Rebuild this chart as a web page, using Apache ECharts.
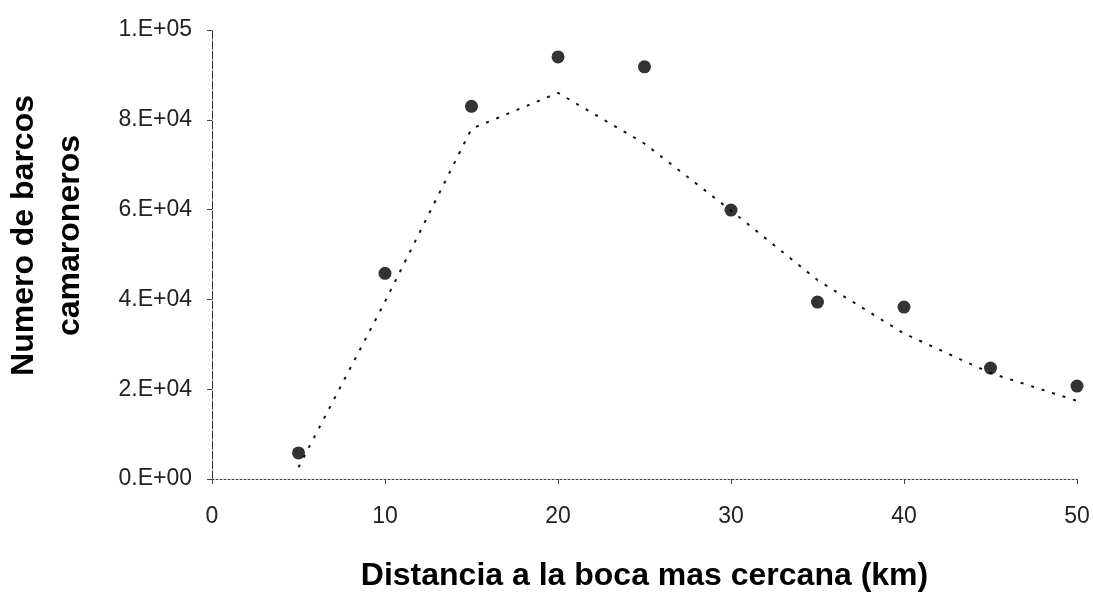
<!DOCTYPE html>
<html>
<head>
<meta charset="utf-8">
<script src="https://cdn.jsdelivr.net/npm/echarts@6/dist/echarts.min.js"></script>
<style>
html,body{margin:0;padding:0;background:#fff;}
#chart{width:1093px;height:597px;}
</style>
</head>
<body>
<div id="chart"></div>
<script>
// Data
const distances = [5, 10, 15, 20, 25, 30, 35, 40, 45, 50];
const observed = [5800, 45800, 83000, 94000, 91800, 59900, 39400, 38300, 24700, 20700];
const fitted = [2600, 39500, 78000, 86000, 74700, 59800, 44300, 32400, 23600, 17400];
const yTickLabels = ['0.E+00', '2.E+04', '4.E+04', '6.E+04', '8.E+04', '1.E+05'];
const xTitle = 'Distancia a la boca mas cercana (km)';
const yTitle = 'Numero de barcos\ncamaroneros';

const chart = echarts.init(document.getElementById('chart'), null, {renderer: 'canvas'});
const font = '"Liberation Sans", Arial, sans-serif';
chart.setOption({
  animation: false,
  backgroundColor: '#fff',
  grid: {left: 212, right: 16, top: 30, bottom: 113},
  xAxis: {
    type: 'value', min: 0, max: 50, interval: 10,
    name: xTitle, nameLocation: 'middle', nameGap: 81,
    nameTextStyle: {fontFamily: font, fontSize: 32, fontWeight: 'bold', color: '#000'},
    axisLine: {show: true, lineStyle: {color: '#444', width: 1, type: [2, 2]}},
    axisTick: {show: true, inside: false, length: 5, lineStyle: {color: '#444'}},
    axisLabel: {margin: 26, fontFamily: font, fontSize: 23, color: '#222'},
    splitLine: {show: false}
  },
  yAxis: {
    type: 'value', min: 0, max: 100000, interval: 20000,
    axisLine: {show: true, lineStyle: {color: '#333', width: 1, type: [8, 2]}},
    axisTick: {show: true, inside: false, length: 5, lineStyle: {color: '#444'}},
    axisLabel: {
      margin: 20, fontFamily: font, fontSize: 23, color: '#222',
      formatter: v => yTickLabels[Math.round(v / 20000)]
    },
    splitLine: {show: false}
  },
  graphic: [{
    type: 'text',
    left: 1, top: 95,
    rotation: Math.PI / 2,
    style: {
      text: yTitle, font: 'bold 32px ' + font, fill: '#000',
      textAlign: 'center', lineHeight: 46
    }
  }],
  series: [
    {
      type: 'line',
      data: distances.map((d, i) => [d, fitted[i]]),
      symbol: 'none',
      lineStyle: {color: '#111', width: 2, type: [3, 8]},
      z: 2
    },
    {
      type: 'scatter',
      data: distances.map((d, i) => [d, observed[i]]),
      symbolSize: 13,
      itemStyle: {color: '#000'},
      z: 3
    }
  ]
});
</script>
</body>
</html>
